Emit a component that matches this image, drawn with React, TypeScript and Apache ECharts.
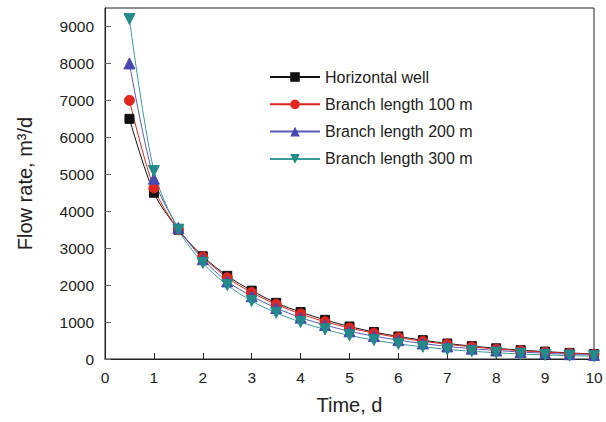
import React, { useEffect, useRef } from "react";
import * as echarts from "echarts";

const times = [0.5, 1, 1.5, 2, 2.5, 3, 3.5, 4, 4.5, 5, 5.5, 6, 6.5, 7, 7.5, 8, 8.5, 9, 9.5, 10];
const horizontal = [6500, 4500, 3500, 2780, 2250, 1850, 1520, 1270, 1060, 880, 730, 610, 510, 420, 350, 290, 240, 200, 165, 135];
const branch100 = [7000, 4630, 3500, 2760, 2200, 1800, 1480, 1220, 1010, 840, 700, 580, 480, 400, 330, 270, 225, 185, 155, 130];
const branch200 = [8000, 4880, 3550, 2700, 2100, 1700, 1380, 1120, 920, 750, 620, 510, 420, 340, 280, 230, 190, 155, 130, 110];
const branch300 = [9200, 5090, 3500, 2600, 2000, 1570, 1250, 1000, 800, 640, 510, 410, 330, 260, 210, 170, 135, 110, 90, 75];
const seriesNames = ["Horizontal well", "Branch length 100 m", "Branch length 200 m", "Branch length 300 m"];

const FONT = "Liberation Sans, Arial, sans-serif";

export default function App() {
  const ref = useRef<HTMLDivElement>(null);
  useEffect(() => {
    if (!ref.current) return;
    const chart = echarts.init(ref.current, null, { renderer: "svg" });
    const mk = (name: string, data: number[], color: string, lineColor: string, symbol: string, size: number, rotate = 0) => ({
      name,
      type: "line",
      data: times.map((t, i) => [t, data[i]]),
      smooth: 0.3,
      symbol,
      symbolSize: size,
      symbolRotate: rotate,
      showAllSymbol: true,
      lineStyle: { color: lineColor, width: 1 },
      itemStyle: { color, borderColor: color },
    });
    chart.setOption({
      animation: false,
      backgroundColor: "#fff",
      textStyle: { fontFamily: FONT },
      grid: { left: 105, right: 12, top: 8, bottom: 63, show: true, borderColor: "#222", borderWidth: 1 },
      legend: {
        orient: "vertical",
        left: 264,
        top: 64,
        itemWidth: 50,
        itemHeight: 12,
        itemGap: 11.3,
        textStyle: { fontSize: 16, color: "#222", fontFamily: FONT },
        data: seriesNames,
      },
      xAxis: {
        type: "value",
        min: 0,
        max: 10,
        interval: 1,
        name: "Time, d",
        nameLocation: "middle",
        nameGap: 36,
        nameTextStyle: { fontSize: 20, color: "#222", fontFamily: FONT },
        axisLine: { lineStyle: { color: "#222", width: 1 } },
        axisTick: { inside: true, length: 6, lineStyle: { color: "#222" } },
        axisLabel: { fontSize: 15.5, color: "#222", margin: 10, fontFamily: FONT, formatter: (v: number) => String(v) },
        splitLine: { show: false },
      },
      yAxis: {
        type: "value",
        min: 0,
        max: 9500,
        interval: 1000,
        name: "Flow rate, m³/d",
        nameLocation: "middle",
        nameGap: 70,
        nameTextStyle: { fontSize: 20, color: "#222", fontFamily: FONT },
        axisLine: { lineStyle: { color: "#222", width: 1 } },
        axisTick: { inside: true, length: 6, lineStyle: { color: "#666" } },
        axisLabel: { fontSize: 15.5, color: "#222", margin: 11, showMaxLabel: false, fontFamily: FONT, formatter: (v: number) => String(v) },
        splitLine: { show: false },
      },
      series: [
        mk(seriesNames[0], horizontal, "#111111", "#111111", "rect", 9),
        mk(seriesNames[1], branch100, "#e0261d", "#e0261d", "circle", 10),
        mk(seriesNames[2], branch200, "#4848b0", "#5a5ab8", "triangle", 11),
        mk(seriesNames[3], branch300, "#238a8a", "#3a9a9a", "triangle", 11, 180),
      ],
    });
    return () => chart.dispose();
  }, []);
  return <div ref={ref} style={{ position: "absolute", left: 0, top: 0, width: 606, height: 422 }} />;
}
